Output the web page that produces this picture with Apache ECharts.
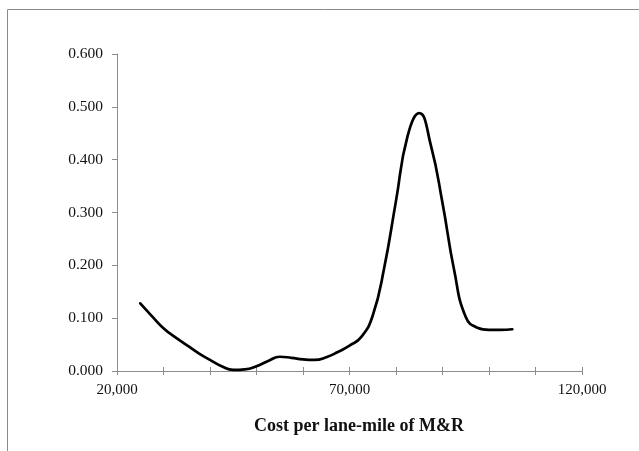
<!DOCTYPE html>
<html>
<head>
<meta charset="utf-8">
<script src="https://cdn.jsdelivr.net/npm/echarts@6/dist/echarts.min.js"></script>
<style>
  html, body { margin: 0; padding: 0; background: #fff; }
  #chart { width: 639px; height: 451px; }
</style>
</head>
<body>
<div id="chart"></div>
<script>
// Cost per lane-mile of M&R (x, every 2,500) against frequency (y)
const costValues = [25000, 27500, 30000, 32500, 35000, 37500, 40000, 42500, 45000, 47500,
  50000, 52500, 55000, 57500, 60000, 62500, 65000, 67500, 70000, 72500,
  75000, 77500, 80000, 82500, 85000, 87500, 90000, 92500, 95000, 97500,
  100000, 102500, 105000];
const shareValues = [0.128, 0.104, 0.081, 0.064, 0.049, 0.034, 0.021, 0.009, 0.002, 0.003,
  0.009, 0.019, 0.027, 0.025, 0.022, 0.021, 0.026, 0.036, 0.048, 0.064,
  0.105, 0.197, 0.322, 0.445, 0.488, 0.427, 0.318, 0.191, 0.102, 0.082,
  0.078, 0.078, 0.079];
const xLabelValues = [20000, 70000, 120000];
const yTickValues = [0, 0.1, 0.2, 0.3, 0.4, 0.5, 0.6];
const xTitle = 'Cost per lane-mile of M&R';

const points = costValues.map((c, i) => [c, shareValues[i]]);
const axisGray = '#8c8c8c';
const serif = '"Liberation Serif", "Times New Roman", serif';

function fmtThousands(v) {
  return v.toLocaleString('en-US');
}

const baseX = {
  type: 'value',
  min: 20000,
  max: 120000,
  interval: 10000,
  splitLine: { show: false },
  position: 'bottom'
};

const chart = echarts.init(document.getElementById('chart'), null, { renderer: 'canvas' });
chart.setOption({
  animation: false,
  backgroundColor: '#ffffff',
  grid: { left: 117, right: 57, top: 54, bottom: 80, containLabel: false },
  xAxis: [
    Object.assign({}, baseX, {
      axisLine: { show: true, lineStyle: { color: axisGray, width: 1 } },
      axisTick: { show: true, length: 4, lineStyle: { color: axisGray, width: 1 } },
      axisLabel: {
        margin: 12,
        color: '#111',
        fontFamily: serif,
        fontSize: 15,
        formatter: v => xLabelValues.includes(v) ? fmtThousands(v) : ''
      }
    }),
    Object.assign({}, baseX, {
      axisLine: { show: false },
      axisTick: { show: true, inside: true, length: 4, lineStyle: { color: axisGray, width: 1 } },
      axisLabel: { show: false }
    })
  ],
  yAxis: {
    type: 'value',
    min: yTickValues[0],
    max: yTickValues[yTickValues.length - 1],
    interval: 0.1,
    splitLine: { show: false },
    axisLine: { show: true, lineStyle: { color: axisGray, width: 1 } },
    axisTick: { show: true, length: 5, lineStyle: { color: axisGray, width: 1 } },
    axisLabel: {
      margin: 14,
      color: '#111',
      fontFamily: serif,
      fontSize: 15.5,
      formatter: v => v.toFixed(3)
    }
  },
  series: [{
    type: 'line',
    xAxisIndex: 0,
    data: points,
    smooth: 0.5,
    showSymbol: false,
    lineStyle: { color: '#000', width: 2.7, join: 'round', cap: 'round' }
  }],
  graphic: [
    {
      type: 'rect',
      shape: { x: 7.5, y: 9.5, width: 700, height: 600 },
      style: { fill: 'none', stroke: '#8a8a8a', lineWidth: 1 },
      silent: true
    },
    {
      type: 'text',
      x: 359,
      y: 426,
      style: {
        text: xTitle,
        fontFamily: serif,
        fontWeight: 'bold',
        fontSize: 18,
        fill: '#111',
        align: 'center',
        verticalAlign: 'middle'
      }
    }
  ]
});
</script>
</body>
</html>
